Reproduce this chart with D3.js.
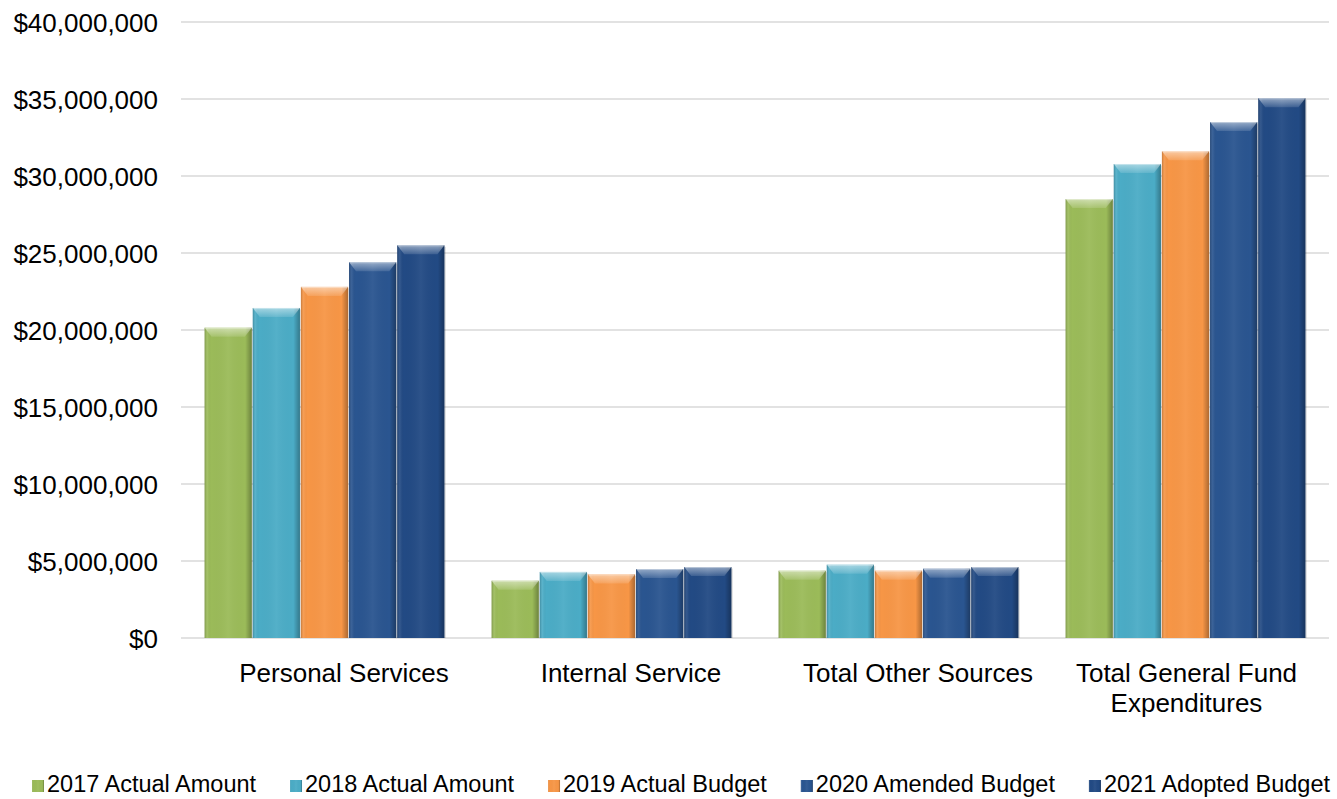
<!DOCTYPE html>
<html>
<head>
<meta charset="utf-8">
<script src="https://cdn.jsdelivr.net/npm/d3@7"></script>
<style>
  html, body { margin: 0; padding: 0; background: #ffffff; }
  svg { display: block; font-family: "Liberation Sans", Arial, sans-serif; }
</style>
</head>
<body>
<svg id="chart" width="1337" height="799"></svg>
<script>
// General Fund expenditures by category and fiscal year
const categories = [
  ["Personal Services"],
  ["Internal Service"],
  ["Total Other Sources"],
  ["Total General Fund", "Expenditures"]
];
const seriesNames = [
  "2017 Actual Amount",
  "2018 Actual Amount",
  "2019 Actual Budget",
  "2020 Amended Budget",
  "2021 Adopted Budget"
];
const actual2017  = [20150000, 3720000, 4370000, 28500000];
const actual2018  = [21430000, 4290000, 4760000, 30780000];
const budget2019  = [22800000, 4130000, 4370000, 31600000];
const amended2020 = [24400000, 4480000, 4500000, 33500000];
const adopted2021 = [25500000, 4610000, 4610000, 35050000];
const yTicks = [0, 5000000, 10000000, 15000000, 20000000, 25000000, 30000000, 35000000, 40000000];

const seriesValues = [actual2017, actual2018, budget2019, amended2020, adopted2021];
const colors = ["#9BBB59", "#4BACC6", "#F79646", "#2A5590", "#224A84"];

const svg = d3.select("#chart");
const plot = { left: 181, right: 1329, top: 22, bottom: 638 };

const x0 = d3.scaleBand()
  .domain(d3.range(categories.length))
  .range([plot.left, plot.right])
  .paddingInner(0)
  .paddingOuter(0);

const x1 = d3.scaleBand()
  .domain(d3.range(seriesNames.length))
  .range([0, x0.bandwidth()])
  .paddingOuter(0.49)
  .paddingInner(0.02);

const y = d3.scaleLinear()
  .domain([0, 40000000])
  .range([plot.bottom, plot.top]);

const fmt = v => "$" + d3.format(",")(v);

// horizontal gridlines
svg.append("g")
  .selectAll("line")
  .data(yTicks)
  .join("line")
  .attr("x1", plot.left)
  .attr("x2", plot.right)
  .attr("y1", d => y(d))
  .attr("y2", d => y(d))
  .attr("stroke", "#d9d9d9")
  .attr("stroke-width", 1.6);

// y axis labels
const yAxis = d3.axisLeft(y).tickValues(yTicks).tickFormat(fmt).tickSize(0).tickPadding(0);
const yg = svg.append("g")
  .attr("transform", `translate(158,0)`)
  .call(yAxis);
yg.select(".domain").remove();
yg.selectAll("text")
  .attr("font-size", 26)
  .attr("fill", "#000")
  .attr("font-family", "'Liberation Sans', Arial, sans-serif")
  .attr("dy", "0.36em");

// gradients for the bevelled bar look
const defs = svg.append("defs");
const side = defs.append("linearGradient").attr("id", "sideShade")
  .attr("x1", "0").attr("x2", "1").attr("y1", "0").attr("y2", "0");
side.append("stop").attr("offset", "0").attr("stop-color", "#000").attr("stop-opacity", 0.2);
side.append("stop").attr("offset", "0.06").attr("stop-color", "#fff").attr("stop-opacity", 0.08);
side.append("stop").attr("offset", "0.14").attr("stop-color", "#000").attr("stop-opacity", 0.0);
side.append("stop").attr("offset", "0.5").attr("stop-color", "#fff").attr("stop-opacity", 0.05);
side.append("stop").attr("offset", "0.86").attr("stop-color", "#000").attr("stop-opacity", 0.0);
side.append("stop").attr("offset", "1").attr("stop-color", "#000").attr("stop-opacity", 0.3);

const topShade = defs.append("linearGradient").attr("id", "topShade")
  .attr("x1", "0").attr("x2", "0").attr("y1", "0").attr("y2", "1");
topShade.append("stop").attr("offset", "0").attr("stop-color", "#fff").attr("stop-opacity", 0.5);
topShade.append("stop").attr("offset", "1").attr("stop-color", "#fff").attr("stop-opacity", 0.12);

// bars
const bars = [];
categories.forEach((c, ci) => {
  seriesValues.forEach((vals, si) => {
    bars.push({ ci, si, value: vals[ci] });
  });
});

const barG = svg.append("g");
const bar = barG.selectAll("g.bar")
  .data(bars)
  .join("g")
  .attr("class", "bar")
  .attr("transform", d => `translate(${x0(d.ci) + x1(d.si)},0)`);

const bw = x1.bandwidth();

bar.append("rect")
  .attr("x", 1.5).attr("y", d => y(d.value) + 1.5)
  .attr("width", bw).attr("height", d => y(0) - y(d.value) - 1.5)
  .attr("fill", "#000").attr("opacity", 0.12);

bar.append("rect")
  .attr("x", 0).attr("y", d => y(d.value))
  .attr("width", bw).attr("height", d => y(0) - y(d.value))
  .attr("fill", d => colors[d.si]);

bar.append("rect")
  .attr("x", 0).attr("y", d => y(d.value))
  .attr("width", bw).attr("height", d => y(0) - y(d.value))
  .attr("fill", "url(#sideShade)");

const bevel = 9;
bar.append("path")
  .attr("d", d => {
    const t = y(d.value);
    return `M0,${t} L${bw},${t} L${bw - 7},${t + bevel} L7,${t + bevel} Z`;
  })
  .attr("fill", "url(#topShade)");

bar.append("line")
  .attr("x1", 1).attr("x2", bw - 1)
  .attr("y1", d => y(d.value) + 0.5).attr("y2", d => y(d.value) + 0.5)
  .attr("stroke", "#fff").attr("stroke-opacity", 0.35);

// category labels
const labelG = svg.append("g");
categories.forEach((lines, i) => {
  // nudge one-line labels to the right
  const cx = x0(i) + x0.bandwidth() / 2 + (lines.length === 1 ? 19.5 : 1);
  const t = labelG.append("text")
    .attr("x", cx)
    .attr("y", 682)
    .attr("text-anchor", "middle")
    .attr("font-size", 26)
    .attr("fill", "#000");
  lines.forEach((ln, k) => {
    t.append("tspan").attr("x", cx).attr("dy", k === 0 ? 0 : 30).text(ln);
  });
});

// legend
const legendFont = 23.5;
const legend = svg.append("g").attr("font-size", legendFont);
const measure = legend.append("text").attr("visibility", "hidden");
const widths = seriesNames.map(n => {
  measure.text(n);
  return measure.node().getComputedTextLength();
});
measure.remove();
const sq = 12, sqGap = 3;
const legendLeft = 32, legendRight = 1330;
const totalItems = d3.sum(widths) + seriesNames.length * (sq + sqGap);
const spacing = (legendRight - legendLeft - totalItems) / (seriesNames.length - 1);
let lx = legendLeft;
seriesNames.forEach((name, i) => {
  legend.append("rect")
    .attr("x", lx).attr("y", 780)
    .attr("width", sq).attr("height", sq)
    .attr("fill", colors[i]);
  legend.append("rect")
    .attr("x", lx).attr("y", 780)
    .attr("width", sq).attr("height", sq)
    .attr("fill", "url(#sideShade)");
  legend.append("text")
    .attr("x", lx + sq + sqGap).attr("y", 792)
    .attr("fill", "#000")
    .text(name);
  lx += sq + sqGap + widths[i] + spacing;
});
</script>
</body>
</html>
